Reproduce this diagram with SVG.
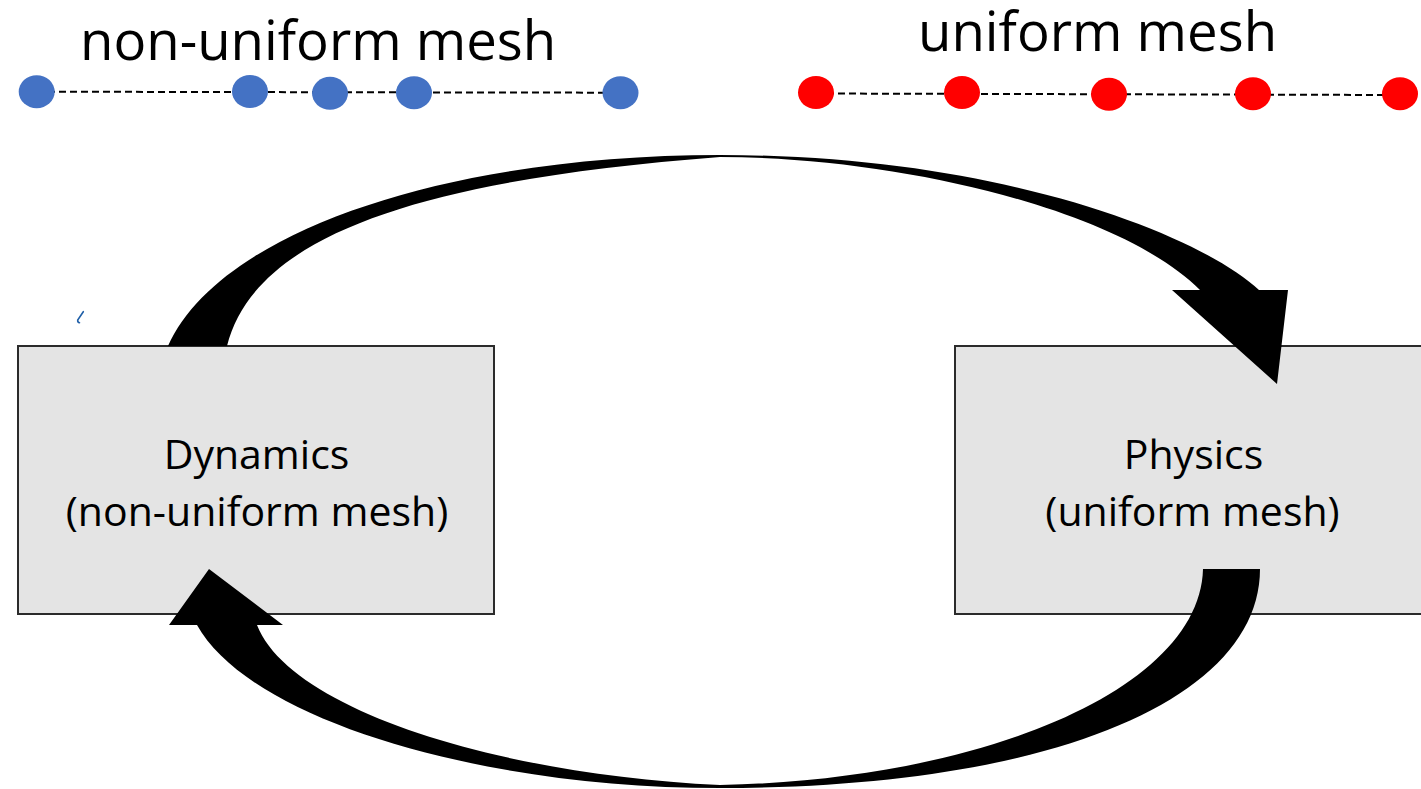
<svg xmlns="http://www.w3.org/2000/svg" width="1421" height="789" viewBox="0 0 1421 789">
  <style>
    .title { font-family: "Open Sans", "Liberation Sans", sans-serif; font-size: 54.5px; fill: #000; }
    .label { font-family: "Open Sans", "Liberation Sans", sans-serif; font-size: 41px; fill: #000; text-anchor: middle; }
    .box { fill: #e4e4e4; stroke: #2b2b2b; stroke-width: 2; }
    .mesh-line { stroke: #000; stroke-width: 2; stroke-dasharray: 7 4; fill: none; }
    .blue { fill: #4472c4; }
    .red { fill: #ff0000; }
    .arrow { fill: #000; stroke: none; }
  </style>
  <rect width="1421" height="789" fill="#fff"/>

  <g id="nonuniform-mesh">
    <text class="title" x="80" y="60">non-uniform mesh</text>
    <line class="mesh-line" x1="37" y1="91.7" x2="620" y2="92.7"/>
    <ellipse class="blue" cx="36.7" cy="91.7" rx="18" ry="16.5"/>
    <ellipse class="blue" cx="250" cy="91.5" rx="18" ry="16.5"/>
    <ellipse class="blue" cx="330" cy="93.3" rx="18" ry="16.5"/>
    <ellipse class="blue" cx="414" cy="92.7" rx="18" ry="16.5"/>
    <ellipse class="blue" cx="620.5" cy="92.7" rx="18" ry="16.5"/>
  </g>

  <g id="uniform-mesh">
    <text class="title" x="918" y="51">uniform mesh</text>
    <line class="mesh-line" x1="816" y1="93.5" x2="1399" y2="95"/>
    <ellipse class="red" cx="816" cy="92.5" rx="18" ry="16.5"/>
    <ellipse class="red" cx="962" cy="92.5" rx="18" ry="16.5"/>
    <ellipse class="red" cx="1109" cy="94.3" rx="18" ry="16.5"/>
    <ellipse class="red" cx="1253" cy="93.7" rx="18" ry="16.5"/>
    <ellipse class="red" cx="1400" cy="93.7" rx="18" ry="16.5"/>
  </g>

  <path d="M83.3,311.7 L77.7,320 Q77.5,322.5 79.5,322.7" fill="none" stroke="#1f5fa8" stroke-width="1.6" stroke-linecap="round"/>

  <g id="dynamics">
    <rect class="box" x="18" y="346" width="476" height="268"/>
    <text class="label" x="256.5" y="469">Dynamics</text>
    <text class="label" x="257" y="526">(non-uniform mesh)</text>
  </g>

  <g id="physics">
    <rect class="box" x="955" y="346" width="480" height="268"/>
    <text class="label" x="1193.5" y="469">Physics</text>
    <text class="label" x="1192.5" y="526">(uniform mesh)</text>
  </g>

  <g id="connectors">
    <path class="arrow" d="M168,346 C220,230 450,155 720,155 C1000,155 1200,235 1259,290 L1288,290 L1277,384 L1172,290 L1200,290 C1120,210 900,157 720,157 C420,180 255,235 227,346 Z"/>
    <path class="arrow" d="M1260,569 C1260,700 1050,788 720,788 C480,788 250,720 197,625 L169,625 L209,569 L283,625 L257,625 C290,710 500,775 720,785 C980,780 1200,690 1203,569 Z"/>
  </g>
</svg>
